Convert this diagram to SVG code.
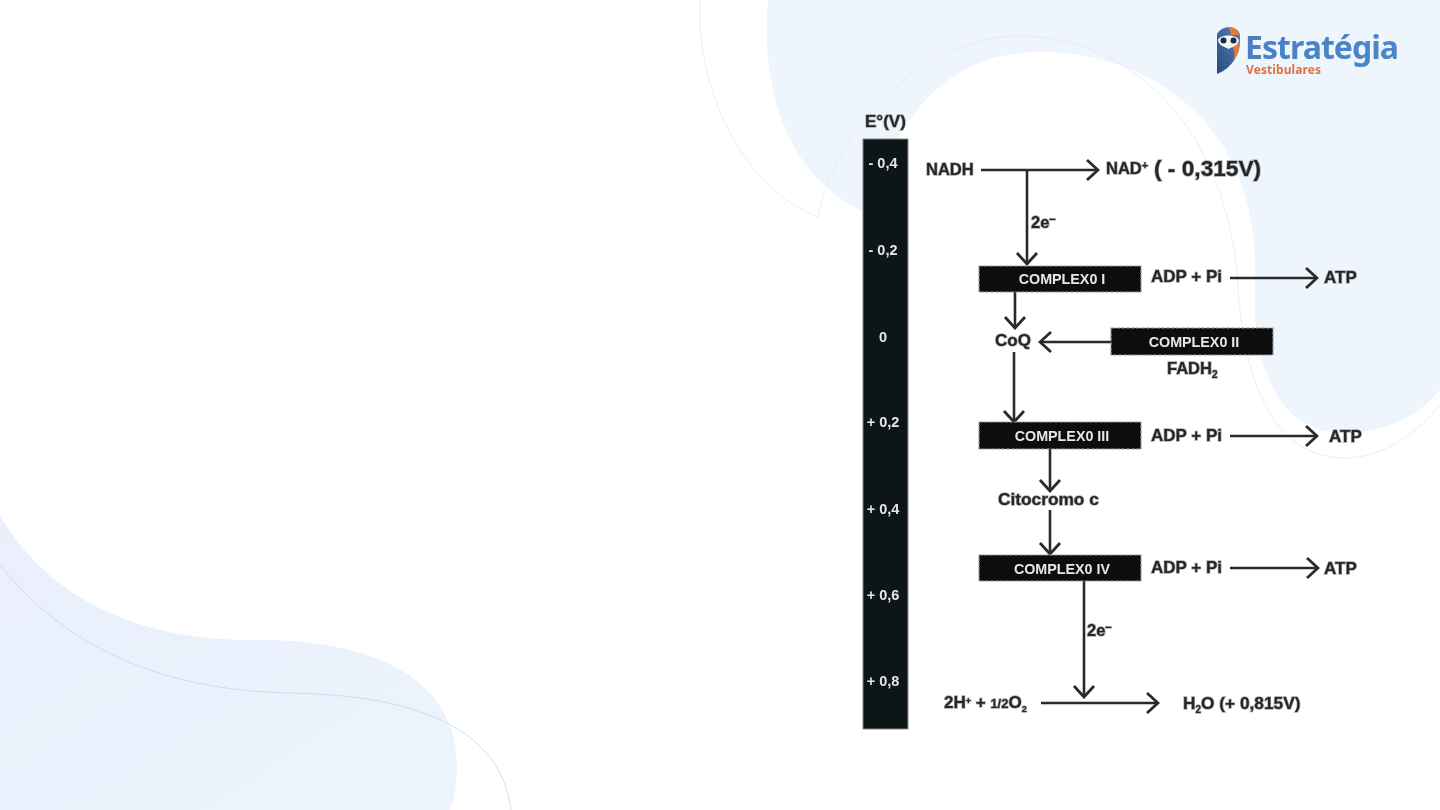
<svg xmlns="http://www.w3.org/2000/svg" width="1440" height="810" viewBox="0 0 1440 810">
<style>
.t{font-family:"Liberation Sans",Arial,sans-serif;font-weight:700;fill:#262626;paint-order:stroke;stroke:#aaa;stroke-width:1.4px}
.w{font-family:"Liberation Sans",Arial,sans-serif;font-weight:700;fill:#e6e6e6;font-size:14.300px;text-anchor:middle}
.s{font-size:14.500px}
.box{fill:#111;stroke:#999;stroke-width:1.200;stroke-dasharray:4 1}
.c{fill:none;stroke:#2b2b2b;stroke-width:2.600}
.o{fill:none;stroke:#e4e8ec;stroke-width:.8}
.soft{filter:url(#b)}
</style>
<defs>
<filter id="b" x="-5%" y="-5%" width="110%" height="110%"><feGaussianBlur stdDeviation="0.4"/></filter>
<marker id="a" viewBox="0 0 16 24" refX="14" refY="12" markerWidth="16" markerHeight="24" markerUnits="userSpaceOnUse" orient="auto"><path d="M3 2L14 12L3 22" fill="none" stroke="#2b2b2b" stroke-width="2.800"/></marker>
<linearGradient id="owl" x1="0" y1="1" x2="1" y2="0"><stop offset="0" stop-color="#2b4a7c"/><stop offset="1" stop-color="#4f82c4"/></linearGradient>
<linearGradient id="lg" x1="0" y1="0" x2="1" y2="1"><stop offset="0" stop-color="#eaeffb"/><stop offset="1" stop-color="#ecf4fd"/></linearGradient>
<linearGradient id="est" x1="0" y1="0" x2="1" y2="0"><stop offset="0" stop-color="#4a80c4"/><stop offset="1" stop-color="#4a88c8"/></linearGradient>
</defs>
<g id="background">
<path fill="#eef5fd" d="M768 0C762 60 772 170 865 212C882 170 915 52 1040 52C1110 50 1235 90 1253 233C1258 280 1250 320 1262 360C1275 405 1300 433 1345 433C1385 433 1420 415 1440 390V0Z"/>
<path fill="url(#lg)" d="M0 515C40 585 120 640 250 640C340 638 455 660 457 765Q457 790 450 810H0Z"/>
<path class="o" d="M700 0C695 90 745 190 818 217C835 130 920 36 1020 36C1100 36 1215 90 1237 270C1240 340 1255 458 1345 458C1385 458 1420 430 1440 405"/>
<path d="M0 565C60 640 150 690 290 693C400 695 500 720 511 810" fill="none" stroke="#c3d7ec" stroke-width="0.800"/>
</g>
<g id="logo" class="soft">
<path d="M1217 34C1222 25 1235 25 1240 34V40C1240 55 1232 68 1217 74Z" fill="url(#owl)"/>
<path d="M1229 27C1235 27 1239 30 1240 35H1231Z" fill="#e07a3c"/>
<path d="M1232 47L1240 42C1240 50 1237 56 1233 61C1235 56 1235 51 1232 47Z" fill="#e07a3c"/>
<path d="M1218 40C1220 34 1236 34 1239 40C1238 46 1232 47 1228.500 49C1225 47 1219 46 1218 40Z" fill="#f5f5f5"/>
<circle cx="1223.500" cy="40.500" r="3" fill="#1d2a44"/><circle cx="1233.500" cy="40.500" r="3" fill="#1d2a44"/>
<text x="1245" y="59" style="font-family:'Noto Sans',sans-serif;font-weight:700;font-size:32px;fill:url(#est)" textLength="154">Estratégia</text>
<text x="1246" y="74" style="font-family:'Noto Sans',sans-serif;font-weight:700;font-size:12px;fill:#dd7240" textLength="75">Vestibulares</text>
</g>
<g id="scale" class="soft">
<rect x="863" y="139" width="45" height="590" fill="#111417" stroke="#888" stroke-width="1"/>
<text class="t" x="865" y="127" font-size="17">E°(V)</text>
<text class="w s" x="883" y="168">- 0,4</text>
<text class="w s" x="883" y="255">- 0,2</text>
<text class="w s" x="883" y="342">0</text>
<text class="w s" x="883" y="427">+ 0,2</text>
<text class="w s" x="883" y="514">+ 0,4</text>
<text class="w s" x="883" y="600">+ 0,6</text>
<text class="w s" x="883" y="686">+ 0,8</text>
</g>
<g id="connectors" class="soft">
<path class="c" d="M981 170H1098" marker-end="url(#a)"/>
<path class="c" d="M1027 170V264" marker-end="url(#a)"/>
<path class="c" d="M1015 292V328" marker-end="url(#a)"/>
<path class="c" d="M1112 342H1040" marker-end="url(#a)"/>
<path class="c" d="M1014 352V422" marker-end="url(#a)"/>
<path class="c" d="M1050 449V491" marker-end="url(#a)"/>
<path class="c" d="M1050 510V554" marker-end="url(#a)"/>
<path class="c" d="M1084 581V697" marker-end="url(#a)"/>
<path class="c" d="M1230 278H1317" marker-end="url(#a)"/>
<path class="c" d="M1230 436H1317" marker-end="url(#a)"/>
<path class="c" d="M1230 568H1318" marker-end="url(#a)"/>
<path class="c" d="M1041 703H1158" marker-end="url(#a)"/>
</g>
<g id="c1" class="soft"><rect class="box" x="979" y="266" width="162" height="26"/><text class="w" x="1062" y="284">COMPLEX0 I</text></g>
<g id="c2" class="soft"><rect class="box" x="1111" y="328" width="162" height="27"/><text class="w" x="1194" y="347">COMPLEX0 II</text></g>
<g id="c3" class="soft"><rect class="box" x="979" y="422" width="162" height="27"/><text class="w" x="1062" y="441">COMPLEX0 III</text></g>
<g id="c4" class="soft"><rect class="box" x="979" y="555" width="162" height="26"/><text class="w" x="1062" y="574">COMPLEX0 IV</text></g>
<g id="labels" class="soft">
<text class="t" x="926" y="175" font-size="16.500">NADH</text>
<text class="t" x="1106" y="174" font-size="16.500">NAD<tspan dy="-5" font-size="11">+</tspan></text>
<text class="t" x="1154" y="176" font-size="22.700">( - 0,315V)</text>
<text class="t" x="1031" y="228" font-size="16.500">2e<tspan dy="-5" font-size="11">−</tspan></text>
<text class="t" x="1151" y="282" font-size="17">ADP + Pi</text>
<text class="t" x="1324" y="283" font-size="17">ATP</text>
<text class="t" x="995" y="346" font-size="17">CoQ</text>
<text class="t" x="1167" y="374" font-size="16.500">FADH<tspan dy="4" font-size="10">2</tspan></text>
<text class="t" x="1151" y="441" font-size="17">ADP + Pi</text>
<text class="t" x="1329" y="442" font-size="17">ATP</text>
<text class="t" x="998" y="505" font-size="17.300">Citocromo c</text>
<text class="t" x="1151" y="573" font-size="17">ADP + Pi</text>
<text class="t" x="1324" y="574" font-size="17">ATP</text>
<text class="t" x="1087" y="636" font-size="16.500">2e<tspan dy="-5" font-size="11">−</tspan></text>
<text class="t" x="944" y="708" font-size="17">2H<tspan dy="-4" font-size="9">+</tspan><tspan dy="4"> + </tspan><tspan font-size="13">1/2</tspan>O<tspan dy="4" font-size="9">2</tspan></text>
<text class="t" x="1183" y="709" font-size="17.300">H<tspan dy="4" font-size="10">2</tspan><tspan dy="-4">O (+ 0,815V)</tspan></text>
</g>
</svg>
